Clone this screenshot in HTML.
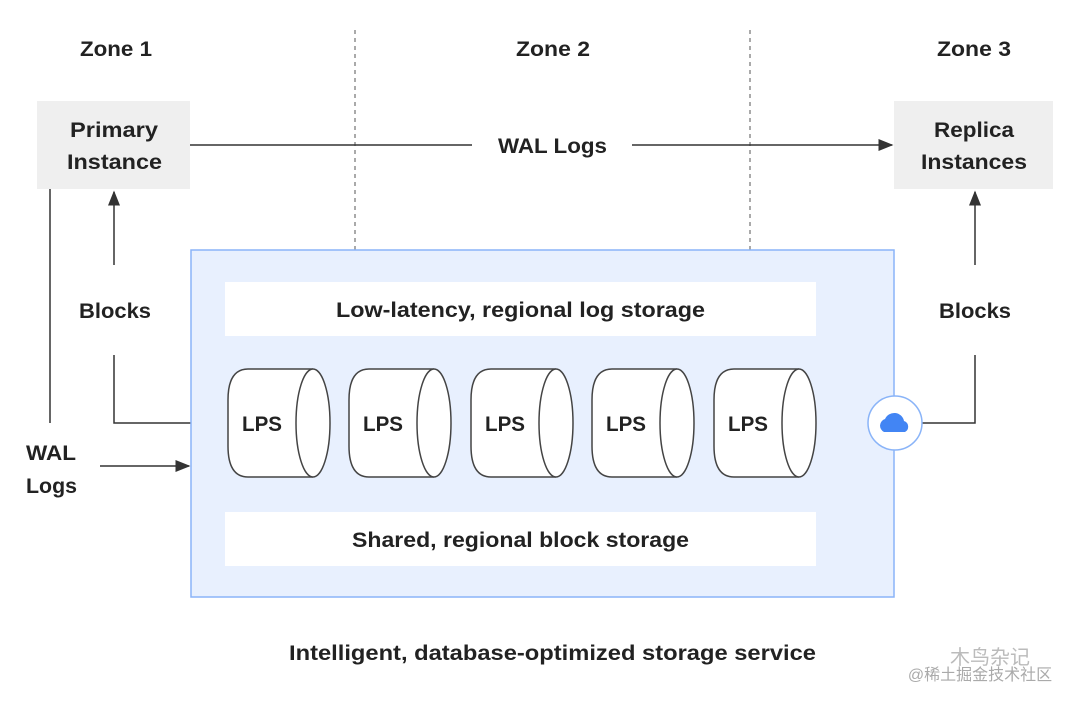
<!DOCTYPE html>
<html><head><style>body{margin:0;background:#fff}svg{display:block}text{font-family:"Liberation Sans","Noto Sans CJK SC",sans-serif;font-weight:bold;fill:#222}</style></head><body>
<svg width="1080" height="703" viewBox="0 0 1080 703">
<defs><marker id="a" markerWidth="10" markerHeight="10" refX="9" refY="5" orient="auto"><path d="M0,1 L10,5 L0,9z" fill="#333"/></marker></defs>
<g font-size="21" lengthAdjust="spacingAndGlyphs">
<text x="80" y="56" textLength="72" lengthAdjust="spacingAndGlyphs">Zone 1</text>
<text x="516" y="56" textLength="74" lengthAdjust="spacingAndGlyphs">Zone 2</text>
<text x="937" y="56" textLength="74" lengthAdjust="spacingAndGlyphs">Zone 3</text>
</g>
<g stroke="#555" stroke-dasharray="4,4" stroke-width="1"><line x1="355" y1="30" x2="355" y2="250"/><line x1="750" y1="30" x2="750" y2="250"/></g>
<rect x="37" y="101" width="153" height="88" fill="#efefef"/>
<rect x="894" y="101" width="159" height="88" fill="#efefef"/>
<g font-size="21">
<text x="70" y="137" textLength="88" lengthAdjust="spacingAndGlyphs">Primary</text>
<text x="67" y="169" textLength="95" lengthAdjust="spacingAndGlyphs">Instance</text>
<text x="934" y="137" textLength="80" lengthAdjust="spacingAndGlyphs">Replica</text>
<text x="921" y="169" textLength="106" lengthAdjust="spacingAndGlyphs">Instances</text>
<text x="498" y="153" textLength="109" lengthAdjust="spacingAndGlyphs">WAL Logs</text>
<text x="79" y="318" textLength="72" lengthAdjust="spacingAndGlyphs">Blocks</text>
<text x="939" y="318" textLength="72" lengthAdjust="spacingAndGlyphs">Blocks</text>
<text x="26" y="460" textLength="50" lengthAdjust="spacingAndGlyphs">WAL</text>
<text x="26" y="493" textLength="51" lengthAdjust="spacingAndGlyphs">Logs</text>
<text x="289" y="660" textLength="527" lengthAdjust="spacingAndGlyphs">Intelligent, database-optimized storage service</text>
</g>
<g stroke="#333" stroke-width="1.5" fill="none">
<line x1="190" y1="145" x2="472" y2="145"/><line x1="632" y1="145" x2="892" y2="145" marker-end="url(#a)"/>
<line x1="114" y1="265" x2="114" y2="192" marker-end="url(#a)"/>
<polyline points="114,355 114,423 191,423"/>
<line x1="50" y1="189" x2="50" y2="423"/>
<line x1="100" y1="466" x2="189" y2="466" marker-end="url(#a)"/>
<line x1="975" y1="265" x2="975" y2="192" marker-end="url(#a)"/>
<polyline points="922,423 975,423 975,355"/>
</g>
<rect x="191" y="250" width="703" height="347" fill="#e8f0fe" stroke="#8ab4f8" stroke-width="1.5"/>
<rect x="225" y="282" width="591" height="54" fill="#fff"/>
<rect x="225" y="512" width="591" height="54" fill="#fff"/>
<g font-size="21">
<text x="336" y="317" textLength="369" lengthAdjust="spacingAndGlyphs">Low-latency, regional log storage</text>
<text x="352" y="547" textLength="337" lengthAdjust="spacingAndGlyphs">Shared, regional block storage</text>
</g>
<g id="c" stroke="#444" stroke-width="1.5" fill="#fff">
<path d="M313,369 L248,369 Q228,369 228,400 L228,446 Q228,477 248,477 L313,477"/>
<ellipse cx="313" cy="423" rx="17" ry="54"/>
</g>
<text x="242" y="431" font-size="21" textLength="40" lengthAdjust="spacingAndGlyphs">LPS</text>
<g transform="translate(121,0)"><use href="#c"/><text x="242" y="431" font-size="21" textLength="40" lengthAdjust="spacingAndGlyphs">LPS</text></g>
<g transform="translate(243,0)"><use href="#c"/><text x="242" y="431" font-size="21" textLength="40" lengthAdjust="spacingAndGlyphs">LPS</text></g>
<g transform="translate(364,0)"><use href="#c"/><text x="242" y="431" font-size="21" textLength="40" lengthAdjust="spacingAndGlyphs">LPS</text></g>
<g transform="translate(486,0)"><use href="#c"/><text x="242" y="431" font-size="21" textLength="40" lengthAdjust="spacingAndGlyphs">LPS</text></g>
<circle cx="895" cy="423" r="27" fill="#fff" stroke="#8ab4f8" stroke-width="1.5"/>
<path d="M884,432 a7,7 0 0 1 1,-13 a10,10 0 0 1 19,2 a6,6 0 0 1 1,11z" fill="#4285f4"/>
<g text-anchor="middle">
<text x="990" y="664" font-size="20" style="fill:#bbb;font-weight:normal">木鸟杂记</text>
<text x="980" y="680" font-size="16" style="fill:#aaa;font-weight:normal">@稀土掘金技术社区</text>
</g>
</svg>
</body></html>
